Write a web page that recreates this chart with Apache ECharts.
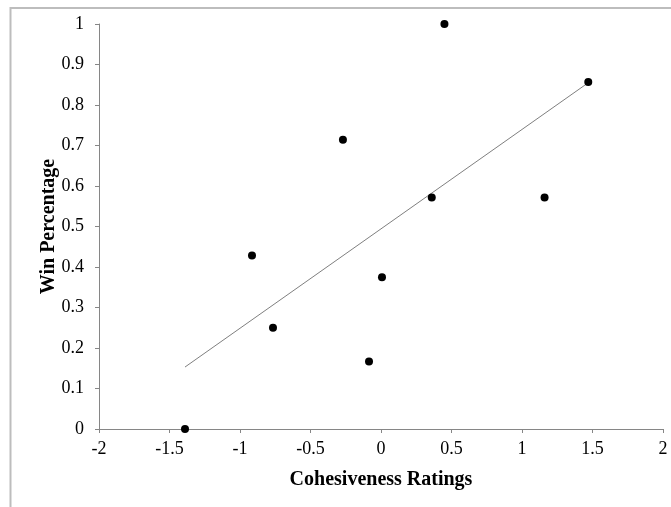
<!DOCTYPE html>
<html><head><meta charset="utf-8">
<script src="https://cdn.jsdelivr.net/npm/echarts@6/dist/echarts.min.js"></script>
<style>html,body{margin:0;padding:0;background:#fff}#c{width:671px;height:507px}</style>
</head><body><div id="c"></div>
<script>
const cohesiveness = [-1.39, -0.915, -0.766, -0.27, -0.085, 0.007, 0.36, 0.45, 1.16, 1.47];
const winPct = [0, 0.4286, 0.25, 0.7143, 0.1667, 0.375, 0.5714, 1, 0.5714, 0.857];
const trendX = [-1.39, 1.47];
const trendY = [0.153, 0.855];
const xTitle = 'Cohesiveness Ratings';
const yTitle = 'Win Percentage';

const chart = echarts.init(document.getElementById('c'), null, {renderer: 'canvas'});
const font = '"Liberation Serif", "Times New Roman", serif';
chart.setOption({
  animation: false,
  backgroundColor: '#fff',
  graphic: [{
    type: 'rect', silent: true,
    shape: {x: 10.5, y: 8, width: 800, height: 600},
    style: {fill: 'none', stroke: '#bdbdbd', lineWidth: 2}
  }],
  grid: {left: 99, right: 8, top: 24, bottom: 78, containLabel: false},
  xAxis: {
    type: 'value', min: -2, max: 2, interval: 0.5,
    name: xTitle, nameLocation: 'middle', nameGap: 41, nameMoveOverlap: false,
    nameTextStyle: {fontFamily: font, fontWeight: 'bold', fontSize: 20, color: '#000'},
    axisLine: {show: true, onZero: false, lineStyle: {color: '#868686', width: 1}},
    axisTick: {show: true, inside: false, length: 4, lineStyle: {color: '#868686'}},
    axisLabel: {fontFamily: font, fontSize: 18, color: '#000', margin: 11},
    splitLine: {show: false}
  },
  yAxis: {
    type: 'value', min: 0, max: 1, interval: 0.1,
    name: yTitle, nameLocation: 'middle', nameGap: 40, nameRotate: 90, nameMoveOverlap: false,
    nameTextStyle: {fontFamily: font, fontWeight: 'bold', fontSize: 20, color: '#000'},
    axisLine: {show: true, onZero: false, lineStyle: {color: '#868686', width: 1}},
    axisTick: {show: true, inside: false, length: 4, lineStyle: {color: '#868686'}},
    axisLabel: {fontFamily: font, fontSize: 18, color: '#000', margin: 15},
    splitLine: {show: false}
  },
  series: [
    {
      type: 'line', data: trendX.map((x, i) => [x, trendY[i]]),
      symbol: 'none', lineStyle: {color: '#7f7f7f', width: 1}, z: 2
    },
    {
      type: 'scatter', data: cohesiveness.map((x, i) => [x, winPct[i]]),
      symbol: 'circle', symbolSize: 8, itemStyle: {color: '#000', opacity: 1}, z: 3
    }
  ]
});
</script></body></html>
